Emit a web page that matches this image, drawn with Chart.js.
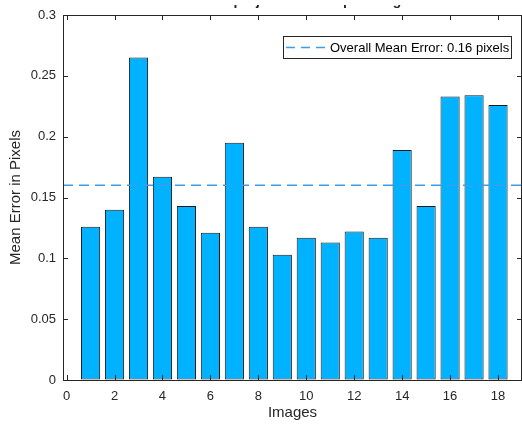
<!DOCTYPE html>
<html>
<head>
<meta charset="utf-8">
<script src="https://cdn.jsdelivr.net/npm/chart.js@4.4.0/dist/chart.umd.min.js"></script>
<style>
  html, body { margin: 0; padding: 0; background: #fff; }
  #wrap { width: 522px; height: 425px; }
</style>
</head>
<body>
<div id="wrap"><canvas id="chart"></canvas></div>
<script>
// --- Data ---
const images = [1, 2, 3, 4, 5, 6, 7, 8, 9, 10, 11, 12, 13, 14, 15, 16, 17, 18];
const meanErrors = [0.126, 0.140, 0.265, 0.167, 0.143, 0.121, 0.195, 0.126, 0.103,
                    0.117, 0.113, 0.122, 0.117, 0.189, 0.143, 0.233, 0.234, 0.226];
const overallMean = 0.16;
const xTicks = [0, 2, 4, 6, 8, 10, 12, 14, 16, 18];
const yTicks = [0, 0.05, 0.1, 0.15, 0.2, 0.25, 0.3];
const xLimits = [-0.15, 19];
const yLimits = [0, 0.3];

const textColor = '#262626';
const barColor = '#00B2FF';
const meanColor = '#3F9CE6';
const fontFamily = '"Liberation Sans", Arial, Helvetica, sans-serif';

// draws the axes box, inward ticks, title and legend (MATLAB look)
const matlabFrame = {
    id: 'matlabFrame',
    afterDatasetsDraw(chart) {
        const ctx = chart.ctx;
        const { left, right, top, bottom } = chart.chartArea;
        const xs = chart.scales.x, ys = chart.scales.y;
        const tick = 5;

        ctx.save();
        ctx.strokeStyle = textColor;
        ctx.lineWidth = 1;
        ctx.beginPath();
        ctx.rect(left + 0.5, top + 0.5, right - left - 1, bottom - top);
        xTicks.forEach(v => {
            const px = Math.round(xs.getPixelForValue(v)) + 0.5;
            ctx.moveTo(px, bottom); ctx.lineTo(px, bottom - tick);
            ctx.moveTo(px, top); ctx.lineTo(px, top + tick);
        });
        yTicks.forEach(v => {
            const py = Math.round(ys.getPixelForValue(v)) + 0.5;
            ctx.moveTo(left, py); ctx.lineTo(left + tick, py);
            ctx.moveTo(right, py); ctx.lineTo(right - tick, py);
        });
        ctx.stroke();

        // title: only its descenders are left in view, like the cropped original
        ctx.save();
        ctx.beginPath();
        ctx.rect(0, 5, chart.width, 10);
        ctx.clip();
        ctx.fillStyle = textColor;
        ctx.font = 'bold 14px ' + fontFamily;
        ctx.textAlign = 'center';
        ctx.textBaseline = 'alphabetic';
        ctx.fillText('Mean Reprojection Error per Image', (left + right) / 2, 4.5);
        ctx.restore();

        // legend
        const lx = 283, ly = 36, lw = 228, lh = 22;
        ctx.fillStyle = '#fff';
        ctx.fillRect(lx, ly, lw, lh);
        ctx.strokeStyle = '#262626';
        ctx.lineWidth = 1;
        ctx.strokeRect(lx + 0.5, ly + 0.5, lw, lh);
        ctx.strokeStyle = meanColor;
        ctx.lineWidth = 1.5;
        ctx.setLineDash([9, 6]);
        ctx.beginPath();
        ctx.moveTo(lx + 3, ly + lh / 2 + 0.5);
        ctx.lineTo(lx + 46, ly + lh / 2 + 0.5);
        ctx.stroke();
        ctx.setLineDash([]);
        ctx.fillStyle = '#000';
        ctx.font = '13px ' + fontFamily;
        ctx.textAlign = 'left';
        ctx.textBaseline = 'middle';
        ctx.fillText('Overall Mean Error: 0.16 pixels', lx + 47, ly + lh / 2 + 1);
        ctx.restore();
    }
};

const ctx = document.getElementById('chart').getContext('2d');
new Chart(ctx, {
    data: {
        datasets: [
            {
                type: 'bar',
                label: 'Mean Error',
                data: images.map((x, i) => ({ x: x, y: meanErrors[i] })),
                backgroundColor: barColor,
                borderColor: '#1a1a1a',
                borderWidth: 1,
                borderSkipped: false,
                barPercentage: 0.8,
                categoryPercentage: 1.0,
                order: 2
            },
            {
                type: 'line',
                label: 'Overall Mean Error: 0.16 pixels',
                data: xLimits.map(x => ({ x: x, y: overallMean })),
                borderColor: meanColor,
                borderWidth: 1.5,
                borderDash: [10, 6],
                pointRadius: 0,
                fill: false,
                order: 1
            }
        ]
    },
    options: {
        responsive: true,
        maintainAspectRatio: false,
        animation: false,
        layout: { padding: { top: 15, right: 0, left: 0, bottom: 0 } },
        plugins: {
            legend: { display: false },
            tooltip: { enabled: false }
        },
        scales: {
            x: {
                type: 'linear',
                min: xLimits[0],
                max: xLimits[1],
                offset: false,
                grid: { display: true, drawOnChartArea: false, drawTicks: false },
                border: { display: false },
                afterBuildTicks: scale => { scale.ticks = xTicks.map(v => ({ value: v })); },
                afterFit: scale => { scale.height = 45; },
                ticks: {
                    color: textColor,
                    font: { family: fontFamily, size: 13 },
                    padding: 9,
                    maxRotation: 0,
                    autoSkip: false,
                    callback: v => String(v)
                },
                title: {
                    display: true,
                    text: 'Images',
                    color: textColor,
                    font: { family: fontFamily, size: 15 },
                    padding: { top: 0, bottom: 3 }
                }
            },
            y: {
                min: yLimits[0],
                max: yLimits[1],
                grid: { display: true, drawOnChartArea: false, drawTicks: false },
                border: { display: false },
                afterBuildTicks: scale => { scale.ticks = yTicks.map(v => ({ value: v })); },
                afterFit: scale => { scale.width = 63; },
                ticks: {
                    color: textColor,
                    font: { family: fontFamily, size: 13 },
                    padding: 7,
                    autoSkip: false,
                    callback: v => String(v)
                },
                title: {
                    display: true,
                    text: 'Mean Error in Pixels',
                    color: textColor,
                    font: { family: fontFamily, size: 15 },
                    padding: { top: 7, bottom: 0 }
                }
            }
        }
    },
    plugins: [matlabFrame]
});
</script>
</body>
</html>
